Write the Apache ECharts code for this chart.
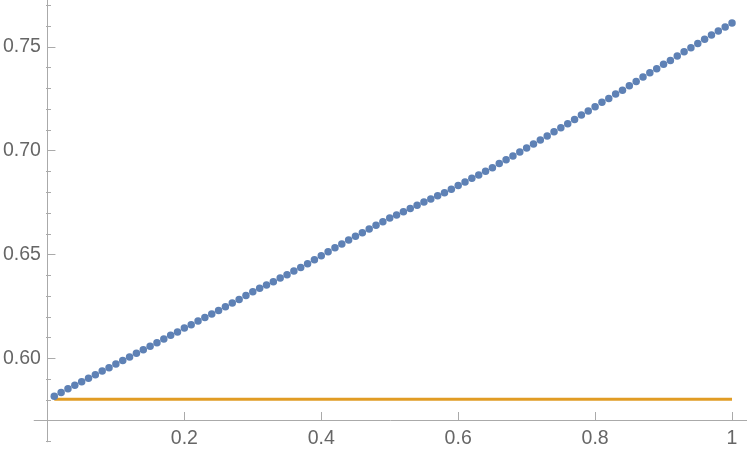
<!DOCTYPE html>
<html>
<head>
<meta charset="utf-8">
<script src="https://cdn.jsdelivr.net/npm/echarts/dist/echarts.min.js"></script>
<style>
  html, body { margin: 0; padding: 0; background: #fff; }
  #chart { width: 747px; height: 455px; }
</style>
</head>
<body>
<div id="chart"></div>
<script>
// x positions of the dots
const xValues = [
  0.01, 0.02, 0.03, 0.04, 0.05, 0.06, 0.07, 0.08, 0.09, 0.10,
  0.11, 0.12, 0.13, 0.14, 0.15, 0.16, 0.17, 0.18, 0.19, 0.20,
  0.21, 0.22, 0.23, 0.24, 0.25, 0.26, 0.27, 0.28, 0.29, 0.30,
  0.31, 0.32, 0.33, 0.34, 0.35, 0.36, 0.37, 0.38, 0.39, 0.40,
  0.41, 0.42, 0.43, 0.44, 0.45, 0.46, 0.47, 0.48, 0.49, 0.50,
  0.51, 0.52, 0.53, 0.54, 0.55, 0.56, 0.57, 0.58, 0.59, 0.60,
  0.61, 0.62, 0.63, 0.64, 0.65, 0.66, 0.67, 0.68, 0.69, 0.70,
  0.71, 0.72, 0.73, 0.74, 0.75, 0.76, 0.77, 0.78, 0.79, 0.80,
  0.81, 0.82, 0.83, 0.84, 0.85, 0.86, 0.87, 0.88, 0.89, 0.90,
  0.91, 0.92, 0.93, 0.94, 0.95, 0.96, 0.97, 0.98, 0.99, 1.00
];
// blue dots
const dotValues = [
  0.5818, 0.5836, 0.5854, 0.5870, 0.5887, 0.5904, 0.5921, 0.5939, 0.5955, 0.5973,
  0.5990, 0.6006, 0.6024, 0.6041, 0.6058, 0.6075, 0.6093, 0.6111, 0.6127, 0.6146,
  0.6162, 0.6180, 0.6197, 0.6213, 0.6231, 0.6249, 0.6266, 0.6284, 0.6303, 0.6321,
  0.6337, 0.6353, 0.6369, 0.6387, 0.6403, 0.6421, 0.6438, 0.6456, 0.6475, 0.6494,
  0.6514, 0.6533, 0.6551, 0.6570, 0.6588, 0.6605, 0.6623, 0.6641, 0.6658, 0.6676,
  0.6690, 0.6706, 0.6722, 0.6737, 0.6753, 0.6767, 0.6783, 0.6798, 0.6814, 0.6832,
  0.6849, 0.6867, 0.6883, 0.6901, 0.6918, 0.6938, 0.6957, 0.6975, 0.6994, 0.7013,
  0.7032, 0.7052, 0.7071, 0.7092, 0.7111, 0.7130, 0.7151, 0.7172, 0.7191, 0.7212,
  0.7233, 0.7252, 0.7273, 0.7291, 0.7313, 0.7334, 0.7355, 0.7376, 0.7395, 0.7416,
  0.7435, 0.7456, 0.7477, 0.7496, 0.7517, 0.7537, 0.7557, 0.7577, 0.7596, 0.7615
];
// orange flat line
const lineX = [0.01, 1.0];
const lineY = [0.5803, 0.5803];

// tick labels
const xTicks = [0.2, 0.4, 0.6, 0.8, 1];
const yTicks = [0.60, 0.65, 0.70, 0.75];
const yMinorTicks = [0.56, 0.57, 0.58, 0.59, 0.61, 0.62, 0.63, 0.64, 0.66, 0.67, 0.68, 0.69, 0.71, 0.72, 0.73, 0.74, 0.76, 0.77];

const axisGray = '#aaaaaa';
const labelGray = '#666666';
const font = 'Liberation Sans';

const gridBox = { left: 32.7, right: 0, top: 0, bottom: 13.2, containLabel: false };
const xMin = -0.0194, xMax = 1.0219;
const yMin = 0.5598, yMax = 0.7726;

const chart = echarts.init(document.getElementById('chart'));
chart.setOption({
  animation: false,
  grid: [gridBox, gridBox],
  xAxis: [
    {
      type: 'value', gridIndex: 0, min: xMin, max: xMax,
      offset: -21.8,
      axisLine: { onZero: false, lineStyle: { color: axisGray, width: 1 } },
      axisTick: { inside: true, length: 8, customValues: xTicks, lineStyle: { color: axisGray } },
      axisLabel: { customValues: xTicks, margin: 9, color: labelGray, fontSize: 19.5, fontFamily: font,
        formatter: v => String(Math.round(v * 10) / 10) },
      splitLine: { show: false }
    },
    {
      type: 'value', gridIndex: 1, min: xMin, max: xMax, show: false
    }
  ],
  yAxis: [
    {
      type: 'value', gridIndex: 0, min: yMin, max: yMax,
      offset: -13.3,
      axisLine: { onZero: false, lineStyle: { color: axisGray, width: 1 } },
      axisTick: { inside: true, length: 8, customValues: yTicks, lineStyle: { color: axisGray } },
      axisLabel: { customValues: yTicks, margin: 6.5, color: labelGray, fontSize: 19.5, fontFamily: font,
        formatter: v => v.toFixed(2) },
      splitLine: { show: false }
    },
    {
      // minor ticks only
      type: 'value', gridIndex: 1, min: yMin, max: yMax,
      offset: -13.3,
      axisLine: { show: false, onZero: false },
      axisTick: { inside: true, length: 5, customValues: yMinorTicks, lineStyle: { color: axisGray } },
      axisLabel: { show: false },
      splitLine: { show: false }
    }
  ],
  series: [
    {
      type: 'line',
      xAxisIndex: 0, yAxisIndex: 0,
      data: lineX.map((x, i) => [x, lineY[i]]),
      showSymbol: false,
      lineStyle: { color: '#E19C24', width: 3 },
      z: 2
    },
    {
      type: 'scatter',
      xAxisIndex: 0, yAxisIndex: 0,
      data: xValues.map((x, i) => [x, dotValues[i]]),
      symbolSize: 7.5,
      itemStyle: { color: '#5E81B5', opacity: 1 },
      z: 3
    }
  ]
});
</script>
</body>
</html>
